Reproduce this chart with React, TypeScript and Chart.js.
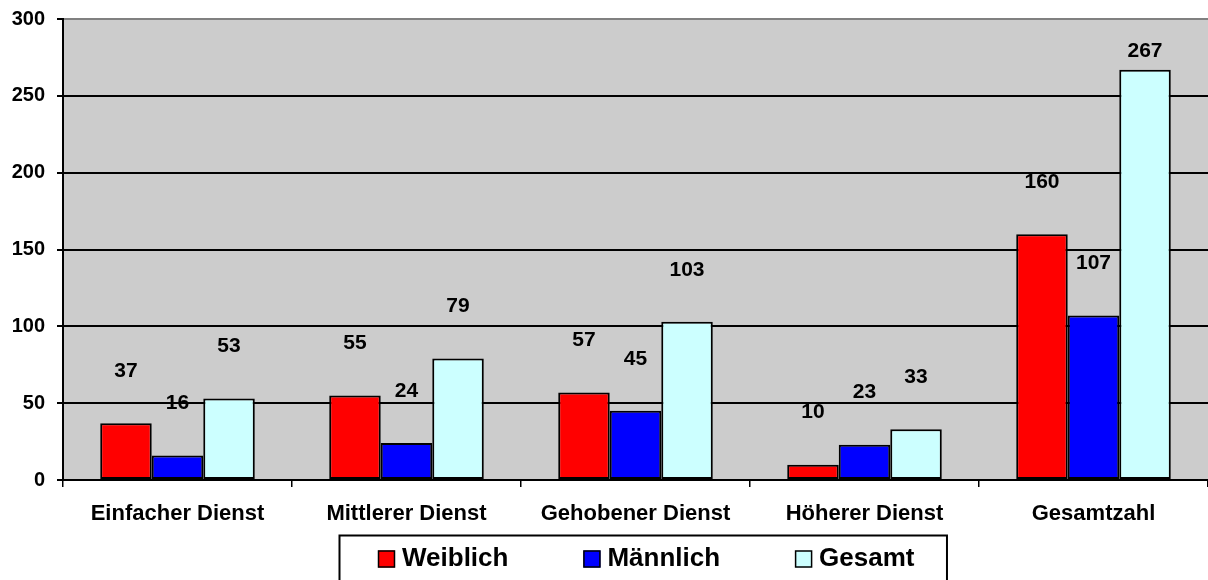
import React, { useEffect, useRef } from "react";
import { Chart, registerables } from "chart.js";

Chart.register(...registerables);

const categories = ["Einfacher Dienst", "Mittlerer Dienst", "Gehobener Dienst", "Höherer Dienst", "Gesamtzahl"];
const seriesNames = ["Weiblich", "Männlich", "Gesamt"];
const weiblich = [37, 55, 57, 10, 160];
const maennlich = [16, 24, 45, 23, 107];
const gesamt = [53, 79, 103, 33, 267];
const yTicks = [0, 50, 100, 150, 200, 250, 300];

const seriesColors = ["#FF0000", "#0000FF", "#CCFFFF"];
const FONT = '"Liberation Sans", Arial, sans-serif';

const backgroundPlugin = {
  id: "bgPlot",
  beforeDraw(chart: any) {
    const { ctx, chartArea: ca, width, height } = chart;
    ctx.save();
    ctx.fillStyle = "#FFFFFF";
    ctx.fillRect(0, 0, width, height);
    ctx.fillStyle = "#CCCCCC";
    ctx.fillRect(ca.left, ca.top, ca.right - ca.left, ca.bottom - ca.top);
    ctx.restore();
  },
};

const valueLabelPlugin = {
  id: "valueLabels",
  afterDatasetsDraw(chart: any) {
    const { ctx, chartArea: ca } = chart;
    ctx.save();
    ctx.font = `bold 21px ${FONT}`;
    ctx.fillStyle = "#000";
    ctx.textAlign = "center";
    ctx.textBaseline = "middle";
    chart.data.datasets.forEach((ds: any, di: number) => {
      const meta = chart.getDatasetMeta(di);
      meta.data.forEach((bar: any, i: number) => {
        const y = Math.max(bar.y - 52, ca.top + 32);
        ctx.fillText(String(ds.data[i]), bar.x, y);
      });
    });
    ctx.restore();
  },
};

const boxLegendPlugin = {
  id: "boxLegend",
  afterDraw(chart: any) {
    const { ctx, chartArea: ca } = chart;
    ctx.save();
    ctx.font = `bold 26px ${FONT}`;
    const sq = 17;
    const gapSq = 7;
    const gapItem = 75;
    const padL = 39;
    const padR = 32;
    const widths = chart.data.datasets.map((ds: any) => ctx.measureText(ds.label).width);
    let total = padL + padR;
    widths.forEach((w: number, i: number) => {
      total += sq + gapSq + w + (i < widths.length - 1 ? gapItem : 0);
    });
    const cx = (ca.left + ca.right) / 2 + 7;
    const left = Math.round(cx - total / 2);
    const top = 535;
    ctx.strokeStyle = "#000";
    ctx.lineWidth = 2;
    ctx.strokeRect(left + 0.5, top + 0.5, total, 80);
    let x = left + padL;
    const cy = 559;
    ctx.textBaseline = "middle";
    ctx.textAlign = "left";
    chart.data.datasets.forEach((ds: any, i: number) => {
      ctx.fillStyle = ds.backgroundColor;
      ctx.fillRect(x, cy - sq / 2, sq, sq);
      ctx.lineWidth = 1.5;
      ctx.strokeStyle = "#000";
      ctx.strokeRect(x + 0.5, cy - sq / 2 + 0.5, sq - 1, sq - 1);
      ctx.fillStyle = "#000";
      ctx.fillText(ds.label, x + sq + gapSq, cy);
      x += sq + gapSq + widths[i] + gapItem;
    });
    ctx.restore();
  },
};

export default function App() {
  const canvasRef = useRef<HTMLCanvasElement | null>(null);

  useEffect(() => {
    document.body.style.margin = "0";
    const canvas = canvasRef.current;
    if (!canvas) return;
    const values = [weiblich, maennlich, gesamt];
    const chart = new Chart(canvas, {
      type: "bar",
      data: {
        labels: categories,
        datasets: seriesNames.map((name, i) => ({
          label: name,
          data: values[i],
          backgroundColor: seriesColors[i],
          borderColor: "#000000",
          borderWidth: 2,
          borderSkipped: false,
          categoryPercentage: 0.675,
          barPercentage: 1.0,
        })),
      },
      options: {
        responsive: false,
        animation: false,
        devicePixelRatio: 1,
        layout: { padding: { top: 19, left: 0, right: -5, bottom: 0 } },
        plugins: {
          legend: { display: false },
          tooltip: { enabled: false },
        },
        scales: {
          x: {
            offset: true,
            grid: {
              display: true,
              offset: true,
              drawOnChartArea: false,
              drawTicks: true,
              tickLength: 7,
              color: "#000",
              lineWidth: 1.5,
            },
            border: { display: true, color: "#000", width: 2 },
            ticks: {
              color: "#000",
              font: { family: FONT, size: 22, weight: "bold" },
              padding: 14,
              maxRotation: 0,
              autoSkip: false,
            },
            afterFit(scale: any) {
              scale.height = 100;
              scale.paddingLeft = 0;
              scale.paddingRight = 0;
            },
          },
          y: {
            min: 0,
            max: 300,
            afterBuildTicks(scale: any) {
              scale.ticks = yTicks.map((v) => ({ value: v }));
            },
            grid: {
              color: (c: any) => (c.tick && c.tick.value === 300 ? "#808080" : "#000"),
              tickColor: "#000",
              lineWidth: 2,
              drawTicks: true,
              tickLength: 6,
            },
            border: { display: true, color: "#000", width: 2 },
            ticks: {
              color: "#000",
              font: { family: FONT, size: 20, weight: "bold" },
              padding: 12,
            },
            afterFit(scale: any) {
              scale.width = 63;
              scale.paddingTop = 0;
              scale.paddingBottom = 0;
            },
          },
        },
      },
      plugins: [backgroundPlugin, valueLabelPlugin, boxLegendPlugin],
    } as any);
    return () => chart.destroy();
  }, []);

  return (
    <div style={{ width: 1208, height: 580, overflow: "hidden" }}>
      <canvas ref={canvasRef} width={1208} height={580} style={{ display: "block" }} />
    </div>
  );
}
